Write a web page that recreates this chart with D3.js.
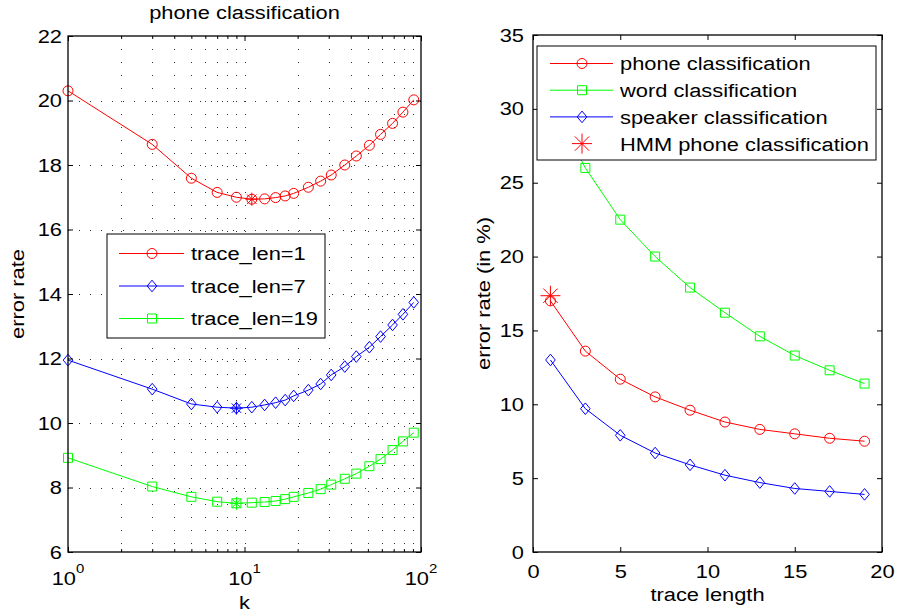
<!DOCTYPE html>
<html>
<head>
<meta charset="utf-8">
<script src="https://cdn.jsdelivr.net/npm/d3@7"></script>
<style>
  html, body { margin: 0; padding: 0; background: #fff; }
  svg { display: block; }
</style>
</head>
<body>
<script>
// ---- data: left panel (error rate vs. k, log axis) ----
const kValues   = [1, 3, 5, 7, 9, 11, 13, 15, 17, 19, 23, 27, 31, 37, 43, 51, 59, 69, 79, 91];
const errLen1   = [20.30, 18.64, 17.59, 17.15, 17.00, 16.94, 16.95, 16.99, 17.04, 17.12,
                   17.31, 17.50, 17.69, 18.00, 18.28, 18.61, 18.95, 19.29, 19.64, 20.02];
const errLen7   = [11.95, 11.05, 10.59, 10.49, 10.46, 10.49, 10.56, 10.63, 10.71, 10.84,
                   11.02, 11.21, 11.49, 11.75, 12.06, 12.35, 12.68, 13.04, 13.37, 13.74];
const errLen19  = [8.92, 8.03, 7.71, 7.56, 7.51, 7.53, 7.55, 7.58, 7.64, 7.71,
                   7.83, 7.95, 8.09, 8.27, 8.43, 8.66, 8.88, 9.16, 9.43, 9.70];
const leftNames = ["trace_len=1", "trace_len=7", "trace_len=19"];
const kMajorTicks = [1, 10, 100];
const kMinorTicks = [2, 3, 4, 5, 6, 7, 8, 9, 20, 30, 40, 50, 60, 70, 80, 90];
const leftYTicks  = [6, 8, 10, 12, 14, 16, 18, 20, 22];
const leftTitle   = "phone classification";

// ---- data: right panel (error rate vs. trace length) ----
const traceLen   = [1, 3, 5, 7, 9, 11, 13, 15, 17, 19];
const phoneErr   = [17.0, 13.6, 11.7, 10.5, 9.6, 8.8, 8.3, 8.0, 7.7, 7.5];
const wordErr    = [30.5, 26.0, 22.5, 20.0, 17.9, 16.2, 14.6, 13.3, 12.3, 11.4];
const speakerErr = [13.0, 9.7, 7.9, 6.7, 5.9, 5.2, 4.7, 4.3, 4.1, 3.9];
const hmmTraceLen = [1];
const hmmPhoneErr = [17.35];
const rightNames  = ["phone classification", "word classification", "speaker classification", "HMM phone classification"];
const rightXTicks = [0, 5, 10, 15, 20];
const rightYTicks = [0, 5, 10, 15, 20, 25, 30, 35];

// ---- drawing ----
const W = 899, H = 614;
const FS = 19, SX = 1.15;
const RED = "#ff0000", GREEN = "#00ff00", BLUE = "#0000ff";

const svg = d3.select("body").append("svg")
  .attr("width", W).attr("height", H)
  .style("font-family", '"Liberation Sans", Arial, Helvetica, sans-serif');

// widen text horizontally about its anchor point
function stretch(sel) {
  sel.each(function () {
    const t = d3.select(this);
    const x = +t.attr("x") || 0;
    t.attr("transform", `translate(${x},0) scale(${SX},1) translate(${-x},0)`);
  });
}

function marker(g, type, x, y, color, r) {
  const m = g.append("path").attr("fill", "none").attr("stroke", color).attr("stroke-width", 1);
  if (type === "circle") {
    g.select(function () { return this; });
    m.remove();
    g.append("circle").attr("cx", x).attr("cy", y).attr("r", r || 5)
      .attr("fill", "none").attr("stroke", color).attr("stroke-width", 1);
  } else if (type === "square") {
    const s = r || 4.5;
    m.attr("d", `M${x - s},${y - s}H${x + s}V${y + s}H${x - s}Z`);
  } else if (type === "diamond") {
    const w = 4.8, h = 5.8;
    m.attr("d", `M${x},${y - h}L${x + w},${y}L${x},${y + h}L${x - w},${y}Z`);
  } else if (type === "star") {
    const s = r || 6.5, d = s * 0.72;
    m.attr("d", `M${x - s},${y}H${x + s}M${x},${y - s}V${y + s}` +
                `M${x - d},${y - d}L${x + d},${y + d}M${x - d},${y + d}L${x + d},${y - d}`);
  }
}

function styleAxis(g) {
  g.select(".domain").remove();
  g.selectAll(".tick line").attr("stroke", "#000").attr("stroke-width", 1);
  g.selectAll("text").attr("font-size", FS).attr("fill", "#000").attr("font-family", null);
}

// ================= left panel =================
const L = { x0: 68, x1: 421, y0: 36, y1: 552 };
const xK = d3.scaleLog().domain([1, 100]).range([L.x0, L.x1]);
const yL = d3.scaleLinear().domain([6, 22]).range([L.y1, L.y0]);
const gL = svg.append("g");

// dotted grid
const gridL = gL.append("g").attr("stroke", "#333").attr("stroke-width", 1);
gridL.selectAll("line.v").data(kMinorTicks.concat([10])).join("line")
  .attr("x1", d => Math.round(xK(d)) + 0.5).attr("x2", d => Math.round(xK(d)) + 0.5)
  .attr("y1", L.y0).attr("y2", L.y1).attr("stroke-dasharray", "1,12");
gridL.selectAll("line.h").data(leftYTicks.slice(1, -1)).join("line")
  .attr("y1", d => Math.round(yL(d)) + 0.5).attr("y2", d => Math.round(yL(d)) + 0.5)
  .attr("x1", L.x0).attr("x2", L.x1).attr("stroke-dasharray", "1,10");

const leftSeries = [
  { name: leftNames[0], values: errLen1,  color: RED,   type: "circle" },
  { name: leftNames[1], values: errLen7,  color: BLUE,  type: "diamond" },
  { name: leftNames[2], values: errLen19, color: GREEN, type: "square" }
];
const lineL = d3.line().x(d => xK(d[0])).y(d => yL(d[1]));
leftSeries.forEach(s => {
  const pts = kValues.map((k, i) => [k, s.values[i]]);
  gL.append("path").attr("d", lineL(pts)).attr("fill", "none")
    .attr("stroke", s.color).attr("stroke-width", 1);
  const gm = gL.append("g");
  pts.forEach(p => marker(gm, s.type, xK(p[0]), yL(p[1]), s.color));
  const best = d3.minIndex(s.values);
  marker(gm, "star", xK(kValues[best]), yL(s.values[best]), s.color, 6.5);
});

// axes with inward ticks
const axB = gL.append("g").attr("transform", `translate(0,${L.y1})`)
  .call(d3.axisBottom(xK).tickValues(kMajorTicks).tickSize(-5).tickFormat(""));
styleAxis(axB);
const axBm = gL.append("g").attr("transform", `translate(0,${L.y1})`)
  .call(d3.axisBottom(xK).tickValues(kMinorTicks).tickSize(-3).tickFormat(""));
styleAxis(axBm);
const axT = gL.append("g").attr("transform", `translate(0,${L.y0})`)
  .call(d3.axisTop(xK).tickValues(kMajorTicks).tickSize(-5).tickFormat(""));
styleAxis(axT);
const axTm = gL.append("g").attr("transform", `translate(0,${L.y0})`)
  .call(d3.axisTop(xK).tickValues(kMinorTicks).tickSize(-3).tickFormat(""));
styleAxis(axTm);
const axL = gL.append("g").attr("transform", `translate(${L.x0},0)`)
  .call(d3.axisLeft(yL).tickValues(leftYTicks).tickSize(-5).tickPadding(6).tickFormat(d3.format("d")));
styleAxis(axL);
stretch(axL.selectAll("text"));
const axR = gL.append("g").attr("transform", `translate(${L.x1},0)`)
  .call(d3.axisRight(yL).tickValues(leftYTicks).tickSize(-5).tickFormat(""));
styleAxis(axR);

// 10^n labels on the log axis
kMajorTicks.forEach(v => {
  const t = gL.append("text").attr("x", xK(v)).attr("y", 585)
    .attr("text-anchor", "middle").attr("font-size", FS);
  t.append("tspan").text("10");
  t.append("tspan").attr("dy", -12).attr("font-size", 13).text(String(Math.round(Math.log10(v))));
  stretch(t);
});

gL.append("rect").attr("x", L.x0).attr("y", L.y0)
  .attr("width", L.x1 - L.x0).attr("height", L.y1 - L.y0)
  .attr("fill", "none").attr("stroke", "#000").attr("stroke-width", 1.3);

stretch(gL.append("text").attr("x", (L.x0 + L.x1) / 2).attr("y", 19)
  .attr("text-anchor", "middle").attr("font-size", FS).text(leftTitle));
stretch(gL.append("text").attr("x", (L.x0 + L.x1) / 2).attr("y", 609)
  .attr("text-anchor", "middle").attr("font-size", FS).text("k"));
gL.append("text").attr("transform", `translate(24,${(L.y0 + L.y1) / 2}) rotate(-90) scale(${SX},1)`)
  .attr("text-anchor", "middle").attr("font-size", FS).text("error rate");

// legend
const lgL = gL.append("g");
lgL.append("rect").attr("x", 107).attr("y", 234).attr("width", 218).attr("height", 104)
  .attr("fill", "#fff").attr("stroke", "#000").attr("stroke-width", 1);
leftSeries.forEach((s, i) => {
  const y = 253.5 + i * 32.5;
  lgL.append("line").attr("x1", 119).attr("x2", 184).attr("y1", y).attr("y2", y)
    .attr("stroke", s.color).attr("stroke-width", 1);
  marker(lgL, s.type, 152, y, s.color);
  stretch(lgL.append("text").attr("x", 191).attr("y", y + 7).attr("font-size", FS).text(s.name));
});

// ================= right panel =================
const R = { x0: 533, x1: 882, y0: 35, y1: 552 };
const xT = d3.scaleLinear().domain([0, 20]).range([R.x0, R.x1]);
const yR = d3.scaleLinear().domain([0, 35]).range([R.y1, R.y0]);
const gR = svg.append("g");

const rightSeries = [
  { name: rightNames[0], values: phoneErr,   color: RED,   type: "circle" },
  { name: rightNames[1], values: wordErr,    color: GREEN, type: "square" },
  { name: rightNames[2], values: speakerErr, color: BLUE,  type: "diamond" }
];
const lineR = d3.line().x(d => xT(d[0])).y(d => yR(d[1]));
rightSeries.forEach(s => {
  const pts = traceLen.map((t, i) => [t, s.values[i]]);
  gR.append("path").attr("d", lineR(pts)).attr("fill", "none")
    .attr("stroke", s.color).attr("stroke-width", 1);
  const gm = gR.append("g");
  pts.forEach(p => marker(gm, s.type, xT(p[0]), yR(p[1]), s.color));
});
hmmTraceLen.forEach((t, i) => marker(gR, "star", xT(t), yR(hmmPhoneErr[i]), RED, 10));

const rB = gR.append("g").attr("transform", `translate(0,${R.y1})`)
  .call(d3.axisBottom(xT).tickValues(rightXTicks).tickSize(-5).tickPadding(14).tickFormat(d3.format("d")));
styleAxis(rB);
rB.selectAll("text").attr("dy", null).attr("y", 26);
stretch(rB.selectAll("text"));
styleAxis(gR.append("g").attr("transform", `translate(0,${R.y0})`)
  .call(d3.axisTop(xT).tickValues(rightXTicks).tickSize(-5).tickFormat("")));
const rL = gR.append("g").attr("transform", `translate(${R.x0},0)`)
  .call(d3.axisLeft(yR).tickValues(rightYTicks).tickSize(-5).tickPadding(9).tickFormat(d3.format("d")));
styleAxis(rL);
stretch(rL.selectAll("text"));
styleAxis(gR.append("g").attr("transform", `translate(${R.x1},0)`)
  .call(d3.axisRight(yR).tickValues(rightYTicks).tickSize(-5).tickFormat("")));

gR.append("rect").attr("x", R.x0).attr("y", R.y0)
  .attr("width", R.x1 - R.x0).attr("height", R.y1 - R.y0)
  .attr("fill", "none").attr("stroke", "#000").attr("stroke-width", 1.3);

stretch(gR.append("text").attr("x", (R.x0 + R.x1) / 2).attr("y", 601)
  .attr("text-anchor", "middle").attr("font-size", FS).text("trace length"));
gR.append("text").attr("transform", `translate(490,${(R.y0 + R.y1) / 2}) rotate(-90) scale(${SX},1)`)
  .attr("text-anchor", "middle").attr("font-size", FS).text("error rate (in %)");

// legend
const lgR = gR.append("g");
lgR.append("rect").attr("x", 537).attr("y", 46).attr("width", 339).attr("height", 114)
  .attr("fill", "#fff").attr("stroke", "#000").attr("stroke-width", 1);
rightSeries.forEach((s, i) => {
  const y = 63.5 + i * 26.7;
  lgR.append("line").attr("x1", 550).attr("x2", 613).attr("y1", y).attr("y2", y)
    .attr("stroke", s.color).attr("stroke-width", 1);
  marker(lgR, s.type, 582, y, s.color);
  stretch(lgR.append("text").attr("x", 620).attr("y", y + 7).attr("font-size", FS).text(s.name));
});
{
  const y = 63.5 + 3 * 26.7;
  marker(lgR, "star", 582, y, RED, 10);
  stretch(lgR.append("text").attr("x", 620).attr("y", y + 7).attr("font-size", FS).text(rightNames[3]));
}
</script>
</body>
</html>
